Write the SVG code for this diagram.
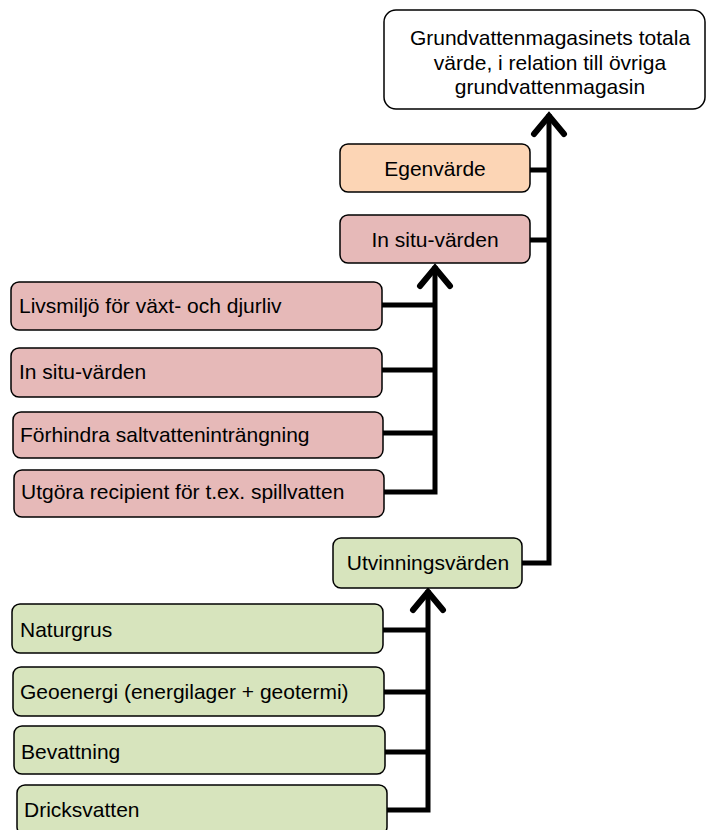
<svg xmlns="http://www.w3.org/2000/svg" width="708" height="830" viewBox="0 0 708 830">
  <style>
    .box { stroke: #000; stroke-width: 1.5; }
    .top { fill: #fff; }
    .peach { fill: #FCD5B5; }
    .pink { fill: #E6B9B8; }
    .green { fill: #D7E4BD; }
    text { font-family: "Liberation Sans", Arial, sans-serif; font-size: 21px; fill: #000; }
    .c { text-anchor: middle; }
    .wire { fill: none; stroke: #000; stroke-width: 5; }
    .head { fill: none; stroke: #000; stroke-width: 6; stroke-linecap: round; stroke-linejoin: miter; }
  </style>

  <!-- connectors -->
  <g id="connectors">
    <!-- main trunk to the total value box -->
    <path class="wire" d="M522,563 H549 V114"/>
    <path class="wire" d="M530,170 H549"/>
    <path class="wire" d="M530,240 H549"/>
    <path class="head" d="M534,134 L549,116 L564,134"/>
    <!-- in situ branch -->
    <path class="wire" d="M384,492 H435 V266"/>
    <path class="wire" d="M382,305 H435"/>
    <path class="wire" d="M382,370 H435"/>
    <path class="wire" d="M383,433 H435"/>
    <path class="head" d="M420,286 L435,268 L450,286"/>
    <!-- extraction branch -->
    <path class="wire" d="M387,810 H428 V590"/>
    <path class="wire" d="M383,630 H428"/>
    <path class="wire" d="M384,692 H428"/>
    <path class="wire" d="M385,752 H428"/>
    <path class="head" d="M413,610 L428,592 L443,610"/>
  </g>

  <g id="total">
    <rect class="box top" x="384" y="10" width="321" height="99" rx="12"/>
    <text class="c" x="550" y="45">Grundvattenmagasinets totala</text>
    <text class="c" x="550" y="70">värde, i relation till övriga</text>
    <text class="c" x="550" y="94">grundvattenmagasin</text>
  </g>

  <g id="egenvarde">
    <rect class="box peach" x="340" y="144" width="190" height="48" rx="8"/>
    <text class="c" x="435" y="176">Egenvärde</text>
  </g>

  <g id="insitu">
    <rect class="box pink" x="340" y="215" width="190" height="48" rx="8"/>
    <text class="c" x="435" y="247">In situ-värden</text>
  </g>

  <g id="livsmiljo">
    <rect class="box pink" x="11" y="282" width="371" height="48" rx="8"/>
    <text x="19" y="313">Livsmiljö för växt- och djurliv</text>
  </g>

  <g id="insitu2">
    <rect class="box pink" x="11" y="348" width="371" height="49" rx="8"/>
    <text x="19" y="379">In situ-värden</text>
  </g>

  <g id="forhindra">
    <rect class="box pink" x="13" y="412" width="370" height="46" rx="8"/>
    <text x="20" y="442">Förhindra saltvatteninträngning</text>
  </g>

  <g id="utgora">
    <rect class="box pink" x="14" y="470" width="370" height="47" rx="8"/>
    <text x="21" y="499">Utgöra recipient för t.ex. spillvatten</text>
  </g>

  <g id="utvinning">
    <rect class="box green" x="333" y="538" width="189" height="50" rx="8"/>
    <text class="c" x="428" y="570">Utvinningsvärden</text>
  </g>

  <g id="naturgrus">
    <rect class="box green" x="12" y="604" width="371" height="49" rx="8"/>
    <text x="20" y="637">Naturgrus</text>
  </g>

  <g id="geoenergi">
    <rect class="box green" x="13" y="667" width="371" height="49" rx="8"/>
    <text x="20" y="699">Geoenergi (energilager + geotermi)</text>
  </g>

  <g id="bevattning">
    <rect class="box green" x="14" y="726" width="371" height="48" rx="8"/>
    <text x="21" y="759">Bevattning</text>
  </g>

  <g id="dricksvatten">
    <rect class="box green" x="17" y="785" width="370" height="50" rx="8"/>
    <text x="24" y="817">Dricksvatten</text>
  </g>
</svg>
